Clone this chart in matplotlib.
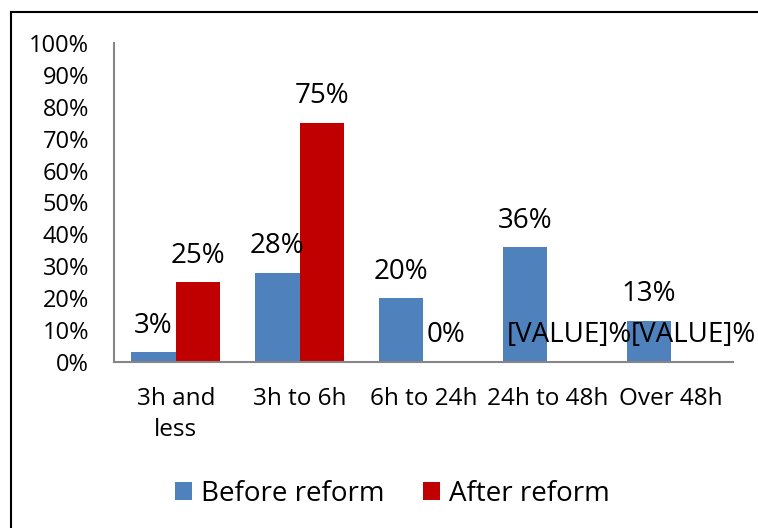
import matplotlib.pyplot as plt
from matplotlib.lines import Line2D
import numpy as np

plt.rcParams['font.family'] = ['Open Sans', 'DejaVu Sans']

categories = ["3h and\nless", "3h to 6h", "6h to 24h", "24h to 48h", "Over 48h"]
before = [3, 28, 20, 36, 13]
after = [25, 75, 0, None, None]

fig = plt.figure(figsize=(7.58, 5.28), dpi=100)
ax = fig.add_axes([0.1504, 0.3144, 0.8166, 0.6042])

x = np.arange(len(categories))
w = 0.36
after_vals = [v if v is not None else 0 for v in after]
ax.bar(x - w / 2, before, w, color="#4F81BD", label="Before reform")
ax.bar(x + w / 2, after_vals, w, color="#C00000", label="After reform")

# value labels, missing ones show the placeholder like in the original
for i, v in enumerate(before):
    ax.annotate(f"{v}%", (x[i] - w / 2, v), xytext=(0, 9), textcoords="offset points",
                ha="center", va="bottom", fontsize=20)
for i, v in enumerate(after):
    txt = f"{v}%" if v is not None else "[VALUE]%"
    ax.annotate(txt, (x[i] + w / 2, after_vals[i]), xytext=(0, 9), textcoords="offset points",
                ha="center", va="bottom", fontsize=20)

ax.set_xlim(-0.5, len(categories) - 0.5)
ax.set_ylim(0, 100)
ax.set_yticks(range(0, 101, 10))
ax.set_yticklabels([f"{t}%" for t in range(0, 101, 10)])
ax.set_xticks(x)
ax.set_xticklabels(categories, linespacing=1.4)
ax.tick_params(axis="both", length=0)
ax.tick_params(axis="x", pad=18, labelsize=17.5)
ax.tick_params(axis="y", pad=18, labelsize=17)
for s in ["top", "right"]:
    ax.spines[s].set_visible(False)
for s in ["left", "bottom"]:
    ax.spines[s].set_color("#868686")
    ax.spines[s].set_linewidth(1.5)

fig.legend(loc="center", bbox_to_anchor=(0.518, 0.065), ncol=2, frameon=False,
           fontsize=20, handlelength=0.6, handleheight=0.6, handletextpad=0.33,
           columnspacing=1.4)

fig.add_artist(Line2D([11 / 758, 1], [1 - 12 / 528, 1 - 12 / 528], color="black", lw=1.5))
fig.add_artist(Line2D([11 / 758, 11 / 758], [0, 1 - 12 / 528], color="black", lw=1.5))

fig.savefig("out.png", dpi=100)
